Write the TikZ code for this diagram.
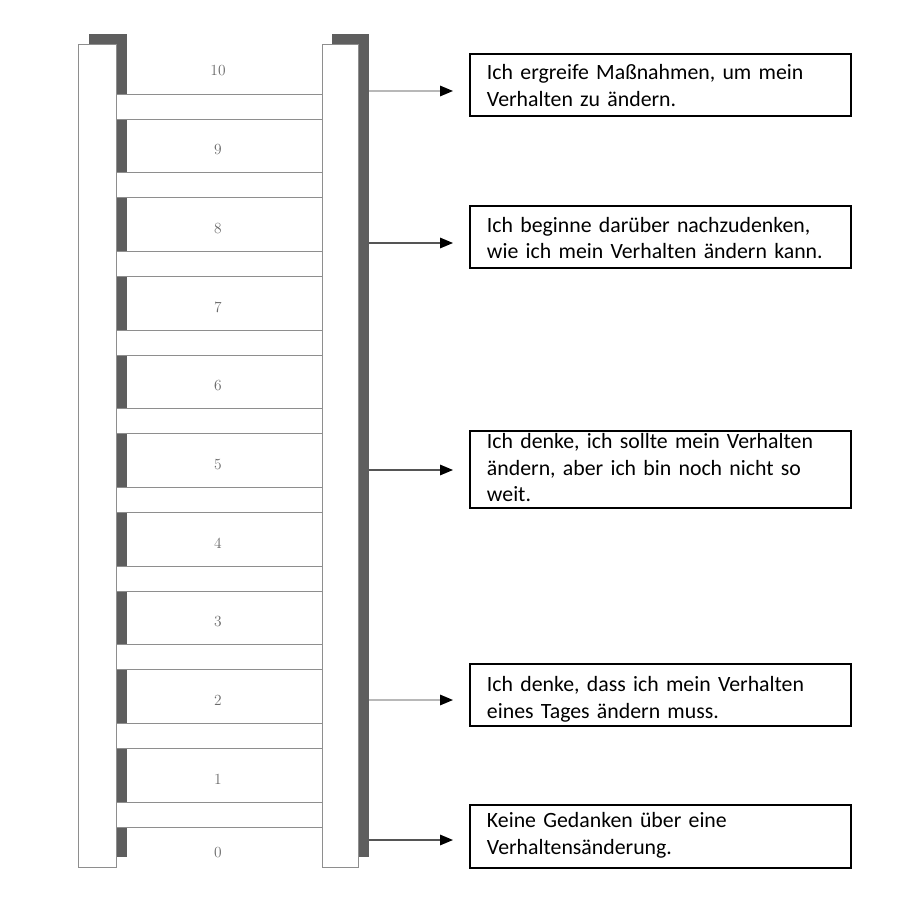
\documentclass[tikz,border=0pt]{standalone}
\usepackage{fontspec}
\newfontfamily\boxfont{Carlito}
\usetikzlibrary{arrows.meta}
\definecolor{railshade}{HTML}{5E5E5E}
\definecolor{railedge}{HTML}{8E8E8E}
\definecolor{digitgray}{HTML}{6A6A6A}
\definecolor{lightline}{HTML}{B8B8B8}
\definecolor{darkline}{HTML}{555555}
\tikzset{
  shadow/.style={fill=railshade},
  rail/.style={fill=white, draw=railedge, line width=0.7pt},
  digit/.style={font=\fontsize{11pt}{13pt}\selectfont, text=digitgray},
  stage/.style={draw, line width=1.4pt, anchor=north west, inner sep=0pt,
    text width=9.525cm, align=left,
    font=\boxfont\fontsize{15.5pt}{18.5pt}\selectfont,
    execute at begin node={\leftskip=0.425cm\rightskip=0pt plus 1fil\relax}},
  pointer/.style={line width=1pt, shorten >=0.4cm,
    -{Triangle[length=0.32cm,width=0.26cm,color=black]}}
}
\begin{document}
\begin{tikzpicture}[x=0.025cm,y=-0.025cm]
\useasboundingbox (0,0) rectangle (910,906);
% ladder: shadows behind the rails
\fill[shadow] (89,34) rectangle (127,857);
\fill[shadow] (332,34) rectangle (369,857);
% rails
\draw[rail] (78,44) rectangle (116,867);
\draw[rail] (322,44) rectangle (358,867);
% rungs with their numbers
\foreach \i in {0,...,9} {
  \pgfmathsetmacro{\top}{94+78.7*\i}
  \pgfmathtruncatemacro{\num}{10-\i}
  \draw[rail] (116,\top) rectangle (322,\top+25);
  \node[digit] (n\num) at (218,\top-23) {\num};
}
\node[digit] (n0) at (218,853) {0};
% stage boxes
\node[stage, text height=0.65cm, text depth=0.9cm] (b1) at (469,53)
  {Ich ergreife Maßnahmen, um mein\\Verhalten zu ändern.};
\node[stage, text height=0.66cm, text depth=0.89cm] (b2) at (469,205)
  {Ich beginne darüber nachzudenken,\\wie ich mein Verhalten ändern kann.};
\node[stage, text height=0.45cm, text depth=1.475cm] (b3) at (469,430)
  {Ich denke, ich sollte mein Verhalten\\ändern, aber ich bin noch nicht so\\weit.};
\node[stage, text height=0.7cm, text depth=0.85cm] (b4) at (469,663)
  {Ich denke, dass ich mein Verhalten\\eines Tages ändern muss.};
\node[stage, text height=0.575cm, text depth=1.0cm] (b5) at (469,804)
  {Keine Gedanken über eine\\Verhaltensänderung.};
% arrows from the ladder to the boxes
\coordinate (a1) at (369,91);
\coordinate (a2) at (369,243);
\coordinate (a3) at (369,470);
\coordinate (a4) at (369,700);
\coordinate (a5) at (369,840);
\draw[pointer, lightline] (a1) -- (a1 -| b1.west);
\draw[pointer, darkline] (a2) -- (a2 -| b2.west);
\draw[pointer, darkline] (a3) -- (a3 -| b3.west);
\draw[pointer, lightline] (a4) -- (a4 -| b4.west);
\draw[pointer, darkline] (a5) -- (a5 -| b5.west);
\end{tikzpicture}
\end{document}
